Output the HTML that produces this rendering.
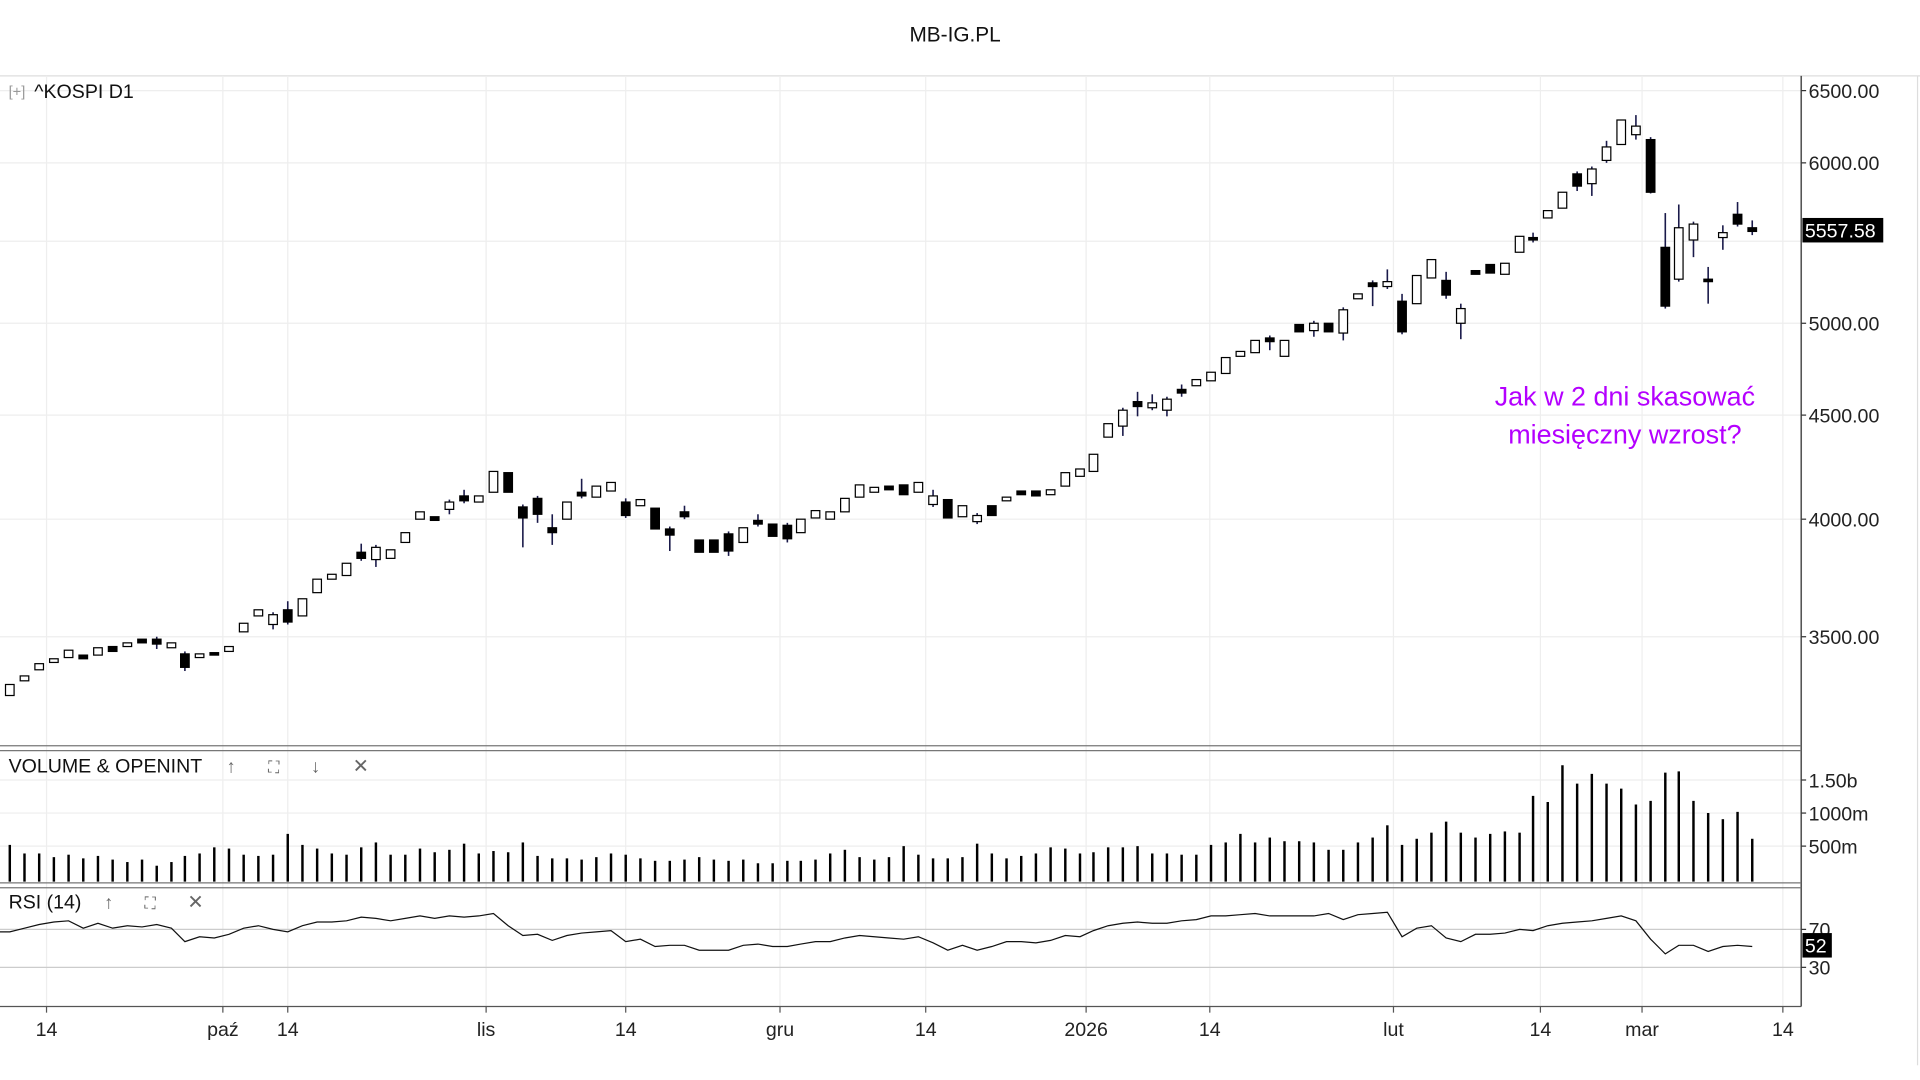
<!DOCTYPE html>
<html><head><meta charset="utf-8"><style>
html,body{margin:0;padding:0;background:#fff;overflow:hidden}
svg{display:block}
text{font-family:"Liberation Sans",sans-serif}
</style></head><body>
<svg id="s" width="1920" height="1080" viewBox="0 0 1568 882" preserveAspectRatio="none" xmlns="http://www.w3.org/2000/svg">
<rect width="1568" height="882" fill="#fff"/>
<text x="780" y="34" font-size="17" text-anchor="middle" fill="#111">MB-IG.PL</text>
<line x1="0" y1="62" x2="1568" y2="62" stroke="#ddd"/>
<line x1="1566" y1="62" x2="1566" y2="870" stroke="#ddd"/>
<g id="grid"></g>
<g id="price"></g>
<g id="vol"></g>
<g id="rsi"></g>
<line x1="1471" y1="62" x2="1471" y2="822" stroke="#555" stroke-width="1.3"/>
<line x1="0" y1="609" x2="1471" y2="609" stroke="#777"/>
<line x1="0" y1="613" x2="1471" y2="613" stroke="#777"/>
<line x1="0" y1="721" x2="1471" y2="721" stroke="#777"/>
<line x1="0" y1="725" x2="1471" y2="725" stroke="#777"/>
<line x1="0" y1="822" x2="1471" y2="822" stroke="#555"/>
<g font-size="16" fill="#222">
<text x="1477" y="80">6500.00</text>
<text x="1477" y="139">6000.00</text>
<text x="1477" y="270">5000.00</text>
<text x="1477" y="345">4500.00</text>
<text x="1477" y="430">4000.00</text>
<text x="1477" y="526">3500.00</text>
<text x="1477" y="643">1.50b</text>
<text x="1477" y="670">1000m</text>
<text x="1477" y="697">500m</text>
<text x="1477" y="765">70</text>
<text x="1477" y="796">30</text>
</g>
<g stroke="#333">
<line x1="1471" y1="74" x2="1475" y2="74"/><line x1="1471" y1="133" x2="1475" y2="133"/><line x1="1471" y1="264" x2="1475" y2="264"/><line x1="1471" y1="339" x2="1475" y2="339"/><line x1="1471" y1="424" x2="1475" y2="424"/><line x1="1471" y1="520" x2="1475" y2="520"/>
<line x1="1471" y1="637" x2="1475" y2="637"/><line x1="1471" y1="664" x2="1475" y2="664"/><line x1="1471" y1="691" x2="1475" y2="691"/>
<line x1="1471" y1="759" x2="1475" y2="759"/><line x1="1471" y1="790" x2="1475" y2="790"/>
</g>
<rect x="1472" y="178" width="66" height="20" fill="#000"/>
<text x="1474" y="194" font-size="16" fill="#fff">5557.58</text>
<rect x="1472" y="762" width="24" height="20" fill="#000"/>
<text x="1474" y="778" font-size="16" fill="#fff">52</text>
<text x="7" y="79" font-size="12" fill="#999">[+]</text>
<text x="28" y="80" font-size="16" fill="#111">^KOSPI  D1</text>
<text x="7" y="631" font-size="16" fill="#111">VOLUME &amp; OPENINT</text>
<text x="185" y="631" font-size="15" fill="#666">↑</text>
<text x="219" y="631" font-size="13" fill="#666">⛶</text>
<text x="254" y="631" font-size="15" fill="#666">↓</text>
<text x="288" y="631" font-size="16" fill="#666">✕</text>
<text x="7" y="742" font-size="16" fill="#111">RSI (14)</text>
<text x="85" y="742" font-size="15" fill="#666">↑</text>
<text x="118" y="742" font-size="13" fill="#666">⛶</text>
<text x="153" y="742" font-size="16" fill="#666">✕</text>
<g font-size="16" fill="#222" text-anchor="middle">
<text x="38" y="846">14</text><text x="182" y="846">paź</text><text x="235" y="846">14</text><text x="397" y="846">lis</text><text x="511" y="846">14</text><text x="637" y="846">gru</text><text x="756" y="846">14</text><text x="887" y="846">2026</text><text x="988" y="846">14</text><text x="1138" y="846">lut</text><text x="1258" y="846">14</text><text x="1341" y="846">mar</text><text x="1456" y="846">14</text>
</g>
<g font-size="22" fill="#b400ff" text-anchor="middle">
<text x="1327" y="331">Jak w 2 dni skasować</text>
<text x="1327" y="362">miesięczny wzrost?</text>
</g>
</svg>
<script>
var NS="http://www.w3.org/2000/svg";
function el(p,t,a){var e=document.createElementNS(NS,t);for(var k in a)e.setAttribute(k,a[k]);document.getElementById(p).appendChild(e);return e;}
var vx=[38,182,235,397,511,637,756,887,988,1138,1258,1341,1456];
vx.forEach(function(x){el("grid","line",{x1:x,y1:62,x2:x,y2:822,stroke:"#eee"});el("grid","line",{x1:x,y1:822,x2:x,y2:827,stroke:"#555"});});
[74,133,197,264,339,424,520,637,664,691,759,790].forEach(function(y){el("grid","line",{x1:0,y1:y,x2:1471,y2:y,stroke:y>750?"#ccc":"#eee"});});
var C=[[8,559,568,0],[20,552,556,0],[32,542,547,0],[44,538,541,0],[56,531,537,0],[68,535,538,1],[80,529,535,0],[92,528,532,1],[104,525,528,0],[116,522,525,1],[128,522,526,1,520,530],[140,525,529,0],[151,534,545,1,532,548],[163,534,537,0],[175,533,535,1],[187,528,532,0],[199,509,516,0],[211,498,503,0],[223,502,510,0,500,514],[235,498,508,1,491,510],[247,489,503,0],[259,473,484,0],[271,469,473,0],[283,460,470,0],[295,451,456,1,444,458],[307,447,457,0,445,463],[319,449,456,0],[331,435,443,0],[343,418,424,0],[355,422,425,1],[367,410,416,0,408,420],[379,405,409,1,400,411],[391,405,410,0],[403,385,402,0],[415,386,402,1],[427,414,423,1,412,447],[439,407,420,1,405,427],[451,431,435,1,420,445],[463,410,424,0],[475,402,405,1,391,407],[487,397,406,0],[499,394,401,0],[511,410,421,1,407,423],[523,408,413,0],[535,415,432,1],[547,432,437,1,430,450],[559,418,422,1,413,424],[571,441,451,1],[583,441,451,1],[595,436,450,1,434,454],[607,431,443,0],[619,425,428,1,420,430],[631,428,438,1],[643,429,440,1,427,443],[654,424,435,0],[666,417,423,0],[678,418,424,0],[690,407,418,0],[702,396,406,0],[714,398,402,0],[726,397,400,1],[738,396,404,1],[750,394,402,0],[762,405,412,0,400,414],[774,408,423,1],[786,413,422,0],[798,421,426,0,419,428],[810,413,421,1],[822,406,409,0],[834,401,404,1],[846,401,405,1],[858,400,404,0],[870,386,397,0],[882,383,389,0],[893,371,385,0],[905,346,357,0],[917,335,348,0,333,356],[929,328,332,1,320,340],[941,329,333,0,322,335],[953,326,335,0,324,340],[965,318,321,1,314,324],[977,310,315,0],[989,304,311,0],[1001,292,305,0],[1013,287,291,0],[1025,278,288,0],[1037,276,279,1,274,286],[1049,278,291,0],[1061,265,271,1],[1073,264,270,0,262,275],[1085,264,271,1],[1097,253,272,0,251,278],[1109,240,244,0],[1121,231,234,1,229,250],[1133,230,234,0,220,236],[1145,246,271,1,240,273],[1157,225,248,0],[1169,212,227,0],[1181,229,241,1,222,244],[1193,252,264,0,248,277],[1205,221,224,1],[1217,216,223,1],[1229,215,224,0],[1241,193,206,0],[1252,194,196,1,190,198],[1264,172,178,0],[1276,157,170,0],[1288,142,152,1,140,156],[1300,138,150,0,136,160],[1312,120,131,0,115,133],[1324,98,118,0],[1336,103,110,0,94,114],[1348,114,157,1,112,158],[1360,202,250,1,174,252],[1371,186,228,0,167,230],[1383,183,196,0,181,210],[1395,228,230,1,218,248],[1407,190,194,0,184,204],[1419,175,183,1,165,185],[1431,186,189,1,180,192]];
C.forEach(function(c){var x=c[0],t=c[1],b=c[2],f=c[3];var wt=c[4]||t,wb=c[5]||b;
if(wt<t||wb>b)el("price","line",{x1:x,y1:wt,x2:x,y2:wb,stroke:"#1a1a4a","stroke-width":1.3});
if(b-t<2)b=t+2;
el("price","rect",{x:x-3.5,y:t,width:7,height:b-t,fill:f?"#000":"#fff",stroke:"#000","stroke-width":1});});
var V=[690,697,697,700,698,701,699,702,704,702,707,704,699,697,692,693,698,699,698,681,690,693,697,698,692,688,698,698,693,696,694,689,697,695,696,688,699,701,701,702,700,697,698,701,703,703,702,700,702,703,702,705,705,703,703,702,697,694,700,702,700,691,698,701,701,700,689,697,701,699,697,692,693,697,696,692,692,691,697,697,698,698,690,688,681,688,684,687,687,688,694,694,688,684,674,690,685,680,671,680,684,681,679,680,650,655,625,640,632,640,644,657,654,631,630,654,664,669,663,685];
var R=[761,758,755,753,752,758,754,758,756,757,755,758,769,765,766,763,758,756,759,761,756,753,753,752,749,750,752,750,748,750,748,749,748,746,756,764,763,768,764,762,761,760,769,767,773,772,772,776,776,776,772,771,773,773,771,769,769,766,764,765,766,767,765,770,776,772,776,773,769,769,770,768,764,765,760,756,754,753,754,754,752,751,748,748,747,746,748,748,748,748,746,751,747,746,745,765,758,756,766,769,763,763,762,759,760,756,754,753,752,750,748,752,767,779,772,772,777,773,772,773];
var pts=[];
C.forEach(function(c,i){el("vol","line",{x1:c[0],y1:V[i],x2:c[0],y2:720,stroke:"#000","stroke-width":2});pts.push(c[0]+","+R[i]);});
el("rsi","polyline",{points:"0,761 "+pts.join(" "),fill:"none",stroke:"#111","stroke-width":1});
</script>
</body></html>
